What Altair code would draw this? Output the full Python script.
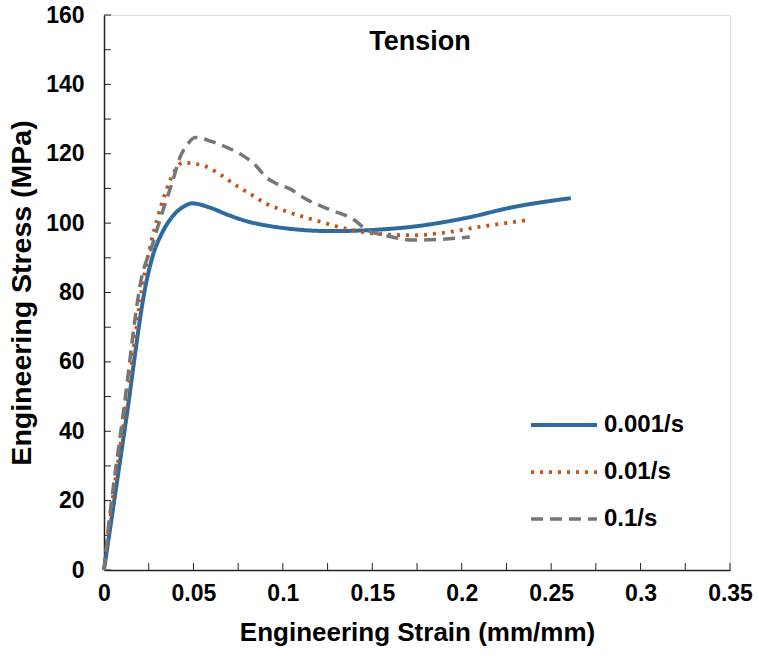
import altair as alt
import pandas as pd

series_names = ["0.001/s", "0.01/s", "0.1/s"]
series_colors = ["#2C6AA0", "#C0561A", "#767676"]
series_dashes = [[1, 0], [3, 6], [12, 7]]
series_widths = [4, 3.5, 5]

strain_001 = [0, 0.012, 0.0239, 0.0277, 0.0324, 0.0398, 0.045, 0.0492, 0.0585, 0.0697,
              0.0809, 0.0922, 0.107, 0.127, 0.149, 0.173, 0.2015, 0.2296, 0.261]
stress_001 = [0, 42, 83.6, 91.3, 97.1, 102.8, 104.9, 105.7, 104.6, 102.3,
              100.4, 99.2, 98.2, 97.7, 98.0, 99.0, 101.4, 104.7, 107.2]

strain_01 = [0, 0.002, 0.012, 0.023, 0.0296, 0.0342, 0.0398, 0.0439, 0.0548, 0.0641, 0.0735,
             0.0828, 0.0903, 0.0997, 0.121, 0.136, 0.153, 0.173, 0.188, 0.211, 0.237]
stress_01 = [0, 9, 46, 86.5, 100.9, 108.6, 115.3, 117.4, 116.7, 114.3, 111.0,
             108.1, 105.7, 103.8, 100.4, 98.3, 96.9, 96.5, 97.1, 99.0, 100.9]

strain_1 = [0, 0.002, 0.011, 0.0211, 0.0267, 0.0324, 0.038, 0.0426, 0.0464, 0.051, 0.0604,
            0.0697, 0.0772, 0.0847, 0.0903, 0.0959, 0.1034, 0.1137, 0.1268, 0.140, 0.147,
            0.1586, 0.1735, 0.1866, 0.2045]
stress_1 = [0, 10, 46, 84.5, 93.2, 102.8, 111.5, 119.1, 122.5, 124.7, 123.5,
            121.6, 119.6, 116.7, 113.4, 111.5, 110.0, 106.7, 103.8, 100.9, 98.0,
            96.3, 95.1, 95.3, 96.0]

x_label_values = [0, 0.05, 0.1, 0.15, 0.2, 0.25, 0.3, 0.35]
y_label_values = [0, 20, 40, 60, 80, 100, 120, 140, 160]
x_tick_values = [0, 0.025, 0.05, 0.075, 0.1, 0.125, 0.15, 0.175, 0.2, 0.225, 0.25, 0.275, 0.3, 0.325, 0.35]
y_tick_values = [0, 10, 20, 30, 40, 50, 60, 70, 80, 90, 100, 110, 120, 130, 140, 150, 160]

chart_title = ["Tension"]

rows = []
for name, xs, ys in zip(series_names, [strain_001, strain_01, strain_1], [stress_001, stress_01, stress_1]):
    for i, (xv, yv) in enumerate(zip(xs, ys)):
        rows.append({"series": name, "strain": xv, "stress": yv, "order": i})
df = pd.DataFrame(rows)

FONT = "Liberation Sans"
W, H = 626, 555

x_scale = alt.Scale(domain=[0, 0.35], nice=False, zero=False)
y_scale = alt.Scale(domain=[0, 160], nice=False)

x_axis = alt.Axis(values=x_label_values, format="~g", title="Engineering Strain (mm/mm)",
                  ticks=False, grid=False, labelPadding=12, titlePadding=14,
                  labelFontSize=23, labelFontWeight="bold", labelFont=FONT,
                  titleFontSize=26, titleFontWeight="bold", titleFont=FONT,
                  labelColor="black", titleColor="black", domainColor="#222", domainWidth=1.5,
                  labelFlush=False)
y_axis = alt.Axis(values=y_label_values, format="d", title="Engineering Stress (MPa)",
                  ticks=False, grid=False, labelPadding=20, titlePadding=9,
                  labelFontSize=23, labelFontWeight="bold", labelFont=FONT,
                  titleFontSize=28.5, titleFontWeight="bold", titleFont=FONT,
                  labelColor="black", titleColor="black", domainColor="#222", domainWidth=1.5,
                  labelFlush=False)

legend = alt.Legend(title=None, orient="none", legendX=425, legendY=375,
                    symbolType="stroke", symbolSize=4356, symbolStrokeWidth=4,
                    labelFontSize=24, labelFontWeight="bold", labelFont=FONT, labelColor="black",
                    labelOffset=5, rowPadding=-2)

lines = alt.Chart(df).mark_line(interpolate="monotone").encode(
    x=alt.X("strain:Q", scale=x_scale, axis=x_axis),
    y=alt.Y("stress:Q", scale=y_scale, axis=y_axis),
    color=alt.Color("series:N", scale=alt.Scale(domain=series_names, range=series_colors), legend=legend),
    strokeDash=alt.StrokeDash("series:N", scale=alt.Scale(domain=series_names, range=series_dashes), legend=legend),
    strokeWidth=alt.StrokeWidth("series:N", scale=alt.Scale(domain=series_names, range=series_widths), legend=None),
    order="order:Q",
)

yticks = alt.Chart(pd.DataFrame({"stress": y_tick_values})).mark_rule(color="#222", strokeWidth=1).encode(
    y=alt.Y("stress:Q", scale=y_scale, axis=y_axis),
    x=alt.value(0), x2=alt.value(7),
)
xticks = alt.Chart(pd.DataFrame({"strain": x_tick_values})).mark_rule(color="#222", strokeWidth=1).encode(
    x=alt.X("strain:Q", scale=x_scale, axis=x_axis),
    y=alt.value(H), y2=alt.value(H - 7),
)

title = alt.Chart(pd.DataFrame({"t": chart_title})).mark_text(
    fontSize=27, fontWeight="bold", font=FONT, color="black", align="center", baseline="middle"
).encode(x=alt.value(316), y=alt.value(27), text="t:N")

chart = alt.layer(yticks, xticks, lines, title).properties(
    width=W, height=H,
    autosize=alt.AutoSizeParams(type="none"),
    padding={"left": 104, "top": 15, "right": 29, "bottom": 89},
).configure_view(stroke="#222", strokeWidth=1.2).configure(background="white")

chart.save("out.html", embed_options={"renderer": "svg", "actions": False})
